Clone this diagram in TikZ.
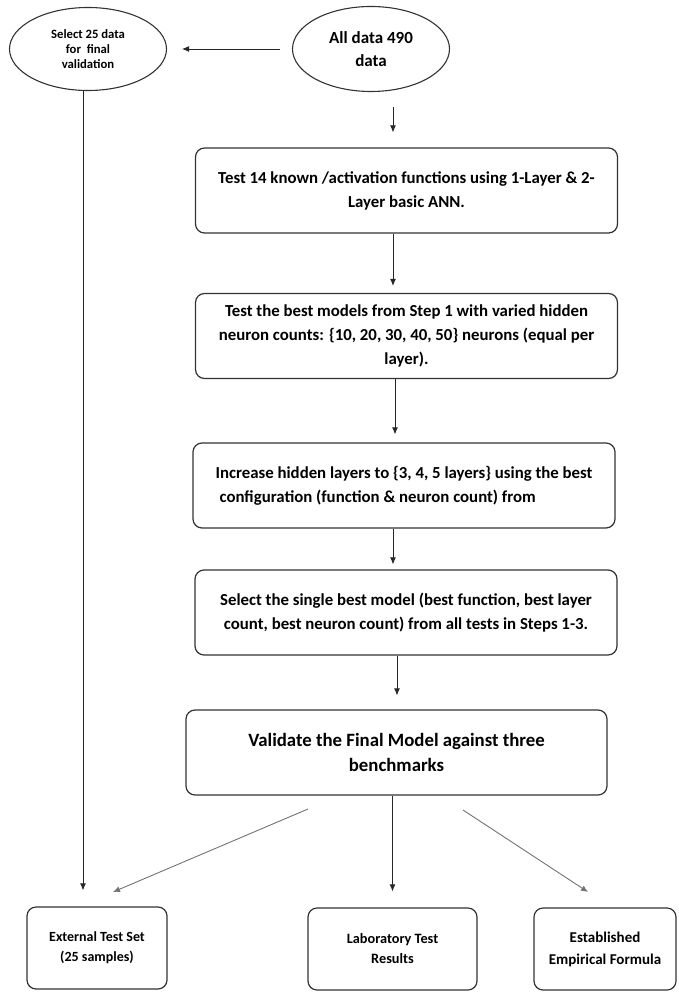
\documentclass[tikz,border=0pt]{standalone}
\usepackage{fontspec}
\setmainfont{Carlito}
\usetikzlibrary{shapes.geometric,arrows.meta}

\tikzset{
  stepbox/.style={draw=black!80, line width=1.2pt, rounded corners=9pt,
    minimum width=422pt, minimum height=85pt, inner sep=0pt, align=center,
    font=\bfseries\fontsize{16.8}{24}\selectfont},
  databox/.style={ellipse, draw=black!80, line width=1.1pt, inner sep=0pt, align=center},
  endbox/.style={draw=black!80, line width=1.2pt, rounded corners=9pt,
    minimum height=82pt, inner sep=0pt, align=center},
  flow/.style={->, draw=black!85, line width=0.9pt},
  side/.style={->, draw=black!55, line width=0.9pt},
}

\begin{document}
\begin{tikzpicture}[x=1pt, y=-1pt, >={Latex[length=7pt,width=6pt]}]
\useasboundingbox (0,0) rectangle (678,992);

% data split
\node[databox, minimum width=157pt, minimum height=83pt,
  font=\bfseries\fontsize{12.7}{15}\selectfont] (sel) at (88,49)
  {Select 25 data\\for~ final\\validation};
\node[databox, minimum width=157pt, minimum height=85pt,
  font=\bfseries\fontsize{17}{23}\selectfont] (all) at (371,49)
  {All data 490\\data};

% steps
\node[stepbox] (s1) at (406.5,190.5)
  {Test 14 known /activation functions using 1-Layer \& 2-\\Layer basic ANN.};
\node[stepbox] (s2) at (406.5,336)
  {Test the best models from Step 1 with varied hidden\\neuron counts: \{10, 20, 30, 40, 50\} neurons (equal per\\layer).};
\node[stepbox, align=left] (s3) at (404,485.5)
  {Increase hidden layers to \{3, 4, 5 layers\} using the best\\\hspace{4pt}configuration (function \& neuron count) from};
\node[stepbox] (s4) at (406,612.5)
  {Select the single best model (best function, best layer\\count, best neuron count) from all tests in Steps 1-3.};
\node[stepbox, minimum width=421pt, font=\bfseries\fontsize{18.8}{25}\selectfont] (s5) at (396.5,752.5)
  {Validate the Final Model against three\\benchmarks};

% benchmarks
\node[endbox, minimum width=140pt, font=\bfseries\fontsize{14}{20}\selectfont] (ext) at (97,948)
  {External Test Set\\(25 samples)};
\node[endbox, minimum width=169pt, font=\bfseries\fontsize{14.3}{20}\selectfont] (lab) at (392.5,949)
  {Laboratory Test\\Results};
\node[endbox, minimum width=142pt, font=\bfseries\fontsize{15}{22}\selectfont] (emp) at (605,949)
  {Established\\Empirical Formula};

\coordinate (c1) at (393,0);
\coordinate (c2) at (395,0);
\coordinate (c3) at (397,0);
\coordinate (c4) at (83,0);
\coordinate (d1) at (308,809);
\coordinate (d2) at (113,892);
\coordinate (d3) at (463,810);
\coordinate (d4) at (588,892);

\draw[flow, shorten <=12pt, shorten >=15pt] (all.west) -- (sel.east);
\draw[flow, shorten <=15pt, shorten >=15pt] (all.south -| c1) -- (s1.north -| c1);
\draw[flow, shorten >=7pt] (s1.south -| c1) -- (s2.north -| c1);
\draw[flow, shorten >=8pt] (s2.south -| c2) -- (s3.north -| c2);
\draw[flow, shorten >=5pt] (s3.south -| c1) -- (s4.north -| c1);
\draw[flow, shorten >=14pt] (s4.south -| c3) -- (s5.north -| c3);
\draw[flow, shorten >=16pt] (s5.south -| lab) -- (lab.north);
\draw[flow, shorten >=16pt] (sel.south -| c4) -- (ext.north -| c4);
\draw[side] (d1) -- (d2);
\draw[side] (d3) -- (d4);
\end{tikzpicture}
\end{document}
